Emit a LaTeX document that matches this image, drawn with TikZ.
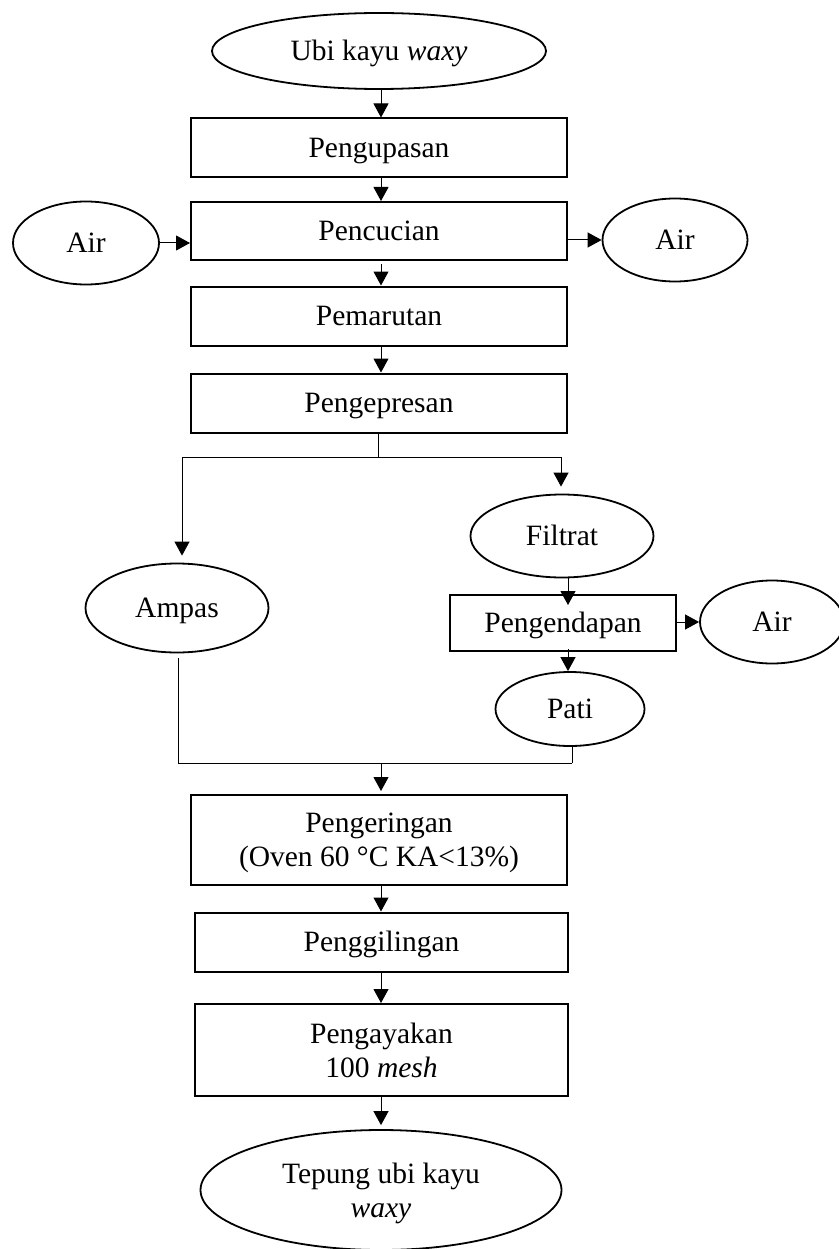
\documentclass[tikz,border=0pt]{standalone}
\usepackage{fontspec}
\setmainfont{Liberation Serif}
\usetikzlibrary{shapes.geometric,arrows.meta}
\begin{document}
\begin{tikzpicture}[x=1pt,y=-1pt,
  every node/.style={font=\fontsize{29.5}{34}\selectfont, align=center, inner sep=0pt, text depth=0pt},
  one/.style={text height=19.5pt},
  procbox/.style={draw, line width=2pt, rectangle, minimum width=376pt},
  oval/.style={draw, line width=1.8pt, ellipse},
  arr/.style={line width=1pt, -{Triangle[length=14pt,width=15pt]}},
  ln/.style={line width=1pt}]
\useasboundingbox (0,0) rectangle (838,1249);
% nodes
\node[oval, one, minimum width=334pt, minimum height=76pt] (ubi) at (379,51) {Ubi kayu \textit{waxy}};
\node[procbox, one, minimum height=59pt] (kupas) at (379,148) {Pengupasan};
\node[procbox, one, minimum height=58pt] (cuci) at (379,231) {Pencucian};
\node[oval, one, minimum width=146pt, minimum height=83pt] (airL) at (86,243) {Air};
\node[oval, one, minimum width=145pt, minimum height=83pt] (airR) at (675,240) {Air};
\node[procbox, one, minimum height=59pt] (marut) at (379,316) {Pemarutan};
\node[procbox, one, minimum height=59pt] (pres) at (379,403) {Pengepresan};
\node[oval, one, minimum width=183pt, minimum height=83pt] (filtrat) at (562,536) {Filtrat};
\node[oval, one, minimum width=183pt, minimum height=89pt] (ampas) at (177,608) {Ampas};
\node[procbox, one, minimum width=226pt, minimum height=56pt] (endap) at (563,623) {Pengendapan};
\node[oval, one, minimum width=144pt, minimum height=83pt] (air3) at (772,622) {Air};
\node[oval, one, minimum width=149pt, minimum height=74pt] (pati) at (570,709) {Pati};
\node[procbox, minimum height=90pt] (kering) at (379,840) {Pengeringan\\(Oven 60 °C KA<13\%)};
\node[procbox, minimum width=373pt, one, minimum height=59pt] (giling) at (381.5,942) {Penggilingan};
\node[procbox, minimum width=373pt, minimum height=92pt] (ayak) at (381.5,1050) {Pengayakan\\100 \textit{mesh}};
\node[oval, minimum width=361pt, minimum height=120pt] (tepung) at (381,1190) {Tepung ubi kayu\\\textit{waxy}};
% coordinates
\coordinate (split) at (378,457);
\coordinate (sL) at (182,457);
\coordinate (sR) at (561,457);
\coordinate (jL) at (178,763);
\coordinate (jR) at (572,763);
\coordinate (jM) at (381,763);
% connectors
\draw[arr] (ubi.south -| 381,0) -- (kupas.north -| 381,0);
\draw[arr] (kupas.south -| 381,0) -- (cuci.north -| 381,0);
\draw[arr] (airL.east) -- (cuci.west |- airL.east);
\draw[arr] (cuci.east |- airR.west) -- (airR.west);
\draw[arr] ([yshift=-3pt]cuci.south -| 381,0) -- (marut.north -| 381,0);
\draw[arr] (marut.south -| 381,0) -- (pres.north -| 381,0);
\draw[ln] (pres.south -| split) -- (split);
\draw[ln] (sL) -- (sR);
\draw[arr, shorten >=7pt] (sL) -- (sL |- ampas.north);
\draw[arr, shorten >=7pt] (sR) -- (sR |- filtrat.north);
\draw[arr] (filtrat.south -| 568,0) -- ([yshift=-11pt]endap.north -| 568,0);
\draw[arr] (endap.east |- air3.west) -- (air3.west);
\draw[arr] ([yshift=3pt]endap.south -| 568,0) -- (pati.north -| 568,0);
\draw[ln] (pati.south -| jR) -- (jR);
\draw[ln] ([yshift=-5pt]ampas.south -| jL) -- (jL);
\draw[ln] (jL) -- (jR);
\draw[arr, shorten >=3pt] (jM) -- (kering.north -| jM);
\draw[arr] (kering.south -| 381,0) -- (giling.north -| 381,0);
\draw[arr] (giling.south -| 381,0) -- (ayak.north -| 381,0);
\draw[arr, shorten >=4pt] (ayak.south -| 381,0) -- (tepung.north -| 381,0);
\end{tikzpicture}
\end{document}
